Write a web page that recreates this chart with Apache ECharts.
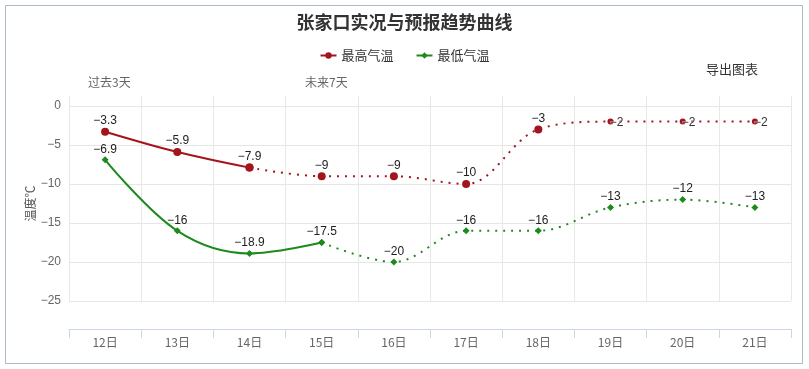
<!DOCTYPE html>
<html>
<head>
<meta charset="utf-8">
<script src="https://cdn.jsdelivr.net/npm/echarts@6/dist/echarts.min.js"></script>
<style>
html,body{margin:0;padding:0;background:#fff;}
#c{width:809px;height:369px;}
</style>
</head>
<body>
<div id="c"></div>
<script>
// ---- data ----
var categories = ['12日','13日','14日','15日','16日','17日','18日','19日','20日','21日'];
var highTemps = [-3.3, -5.9, -7.9, -9, -9, -10, -3, -2, -2, -2];
var lowTemps  = [-6.9, -16, -18.9, -17.5, -20, -16, -16, -13, -12, -13];
var highSolidCount = 3;   // observed part drawn solid (12-14)
var lowSolidCount = 4;    // observed part drawn solid (12-15)
var yTicks = [0, -5, -10, -15, -20, -25];
var titleText = '张家口实况与预报趋势曲线';
var seriesNames = ['最高气温', '最低气温'];

var FONT = '"Noto Sans CJK SC", "DejaVu Sans", sans-serif';
var NUMFONT = '"Liberation Sans", "DejaVu Sans", sans-serif';
var RED = '#a3141c';
var GREEN = '#1e8a1e';

function fmtNum(v) { return String(v).replace('-', '\u2212'); }

function labelFor(v, inline) {
  if (inline) {
    return { show: true, position: 'inside', offset: [6, 1], color: '#333', fontSize: 12, fontFamily: NUMFONT,
             textBorderColor: 'rgba(255,255,255,0.6)', textBorderWidth: 1,
             formatter: function (p) { return fmtNum(p.value); } };
  }
  return { show: true, position: 'top', distance: 1, color: '#222', fontSize: 12, fontFamily: NUMFONT,
           formatter: function (p) { return fmtNum(p.value); } };
}

function buildSeries(values, solidCount, highSeries) {
  var solid = [], dotted = [];
  for (var i = 0; i < values.length; i++) {
    var v = values[i];
    var inline = highSeries && v > -2.5;
    if (i < solidCount) {
      solid.push({ value: v, label: labelFor(v, inline) });
    } else {
      solid.push(null);
    }
    if (i >= solidCount - 1) {
      var lbl = (i === solidCount - 1) ? { show: false } : labelFor(v, inline);
      var item = { value: v, label: lbl };
      if (inline) { item.symbolSize = 6; }
      dotted.push(item);
    } else {
      dotted.push(null);
    }
  }
  return { solid: solid, dotted: dotted };
}

var hi = buildSeries(highTemps, highSolidCount, true);
var lo = buildSeries(lowTemps, lowSolidCount, false);

function lineSeries(name, data, color, symbol, size, dotted) {
  return {
    name: name, type: 'line', data: data, smooth: 0.35,
    xAxisIndex: 0, yAxisIndex: 0,
    symbol: symbol, symbolSize: size, showSymbol: true,
    lineStyle: { color: color, width: 2, type: dotted ? [2, 6] : 'solid', cap: 'butt' },
    itemStyle: { color: color },
    emphasis: { disabled: true },
    animation: false,
    z: dotted ? 2 : 3
  };
}

var chart = echarts.init(document.getElementById('c'), null, { renderer: 'canvas' });
chart.setOption({
  backgroundColor: '#fff',
  animation: false,
  title: {
    text: titleText, left: 'center', top: 8,
    textStyle: { fontSize: 18, fontWeight: 'bold', color: '#333', fontFamily: FONT }
  },
  legend: {
    data: seriesNames, top: 44, left: 'center', itemGap: 22, itemWidth: 16, itemHeight: 8,
    textStyle: { fontSize: 13, color: '#333', fontFamily: FONT },
    selectedMode: false
  },
  graphic: [
    { type: 'rect', shape: { x: 5.5, y: 5.5, width: 797, height: 358 },
      style: { fill: null, stroke: '#a9bcc6', lineWidth: 1 }, silent: true, z: 0 },
    { type: 'text', left: 706, top: 63, style: { text: '导出图表', fill: '#333', font: '13px ' + FONT } },
    { type: 'text', left: 88, top: 76, style: { text: '过去3天', fill: '#666', font: '12px ' + FONT } },
    { type: 'text', left: 305, top: 76, style: { text: '未来7天', fill: '#666', font: '12px ' + FONT } }
  ],
  grid: [
    { left: 69, right: 18, top: 106, height: 195, containLabel: false },
    { left: 69, right: 18, top: 96, height: 10, containLabel: false }
  ],
  xAxis: [
    {
      type: 'category', data: categories, gridIndex: 0, position: 'bottom', offset: 28,
      boundaryGap: true,
      axisLine: { show: true, onZero: false, lineStyle: { color: '#ccd6eb', width: 1 } },
      axisTick: { show: true, length: 9, lineStyle: { color: '#ccd6eb' } },
      axisLabel: { color: '#666', fontSize: 12, fontFamily: FONT, margin: 7 },
      splitLine: { show: true, lineStyle: { color: '#e8e8e8', width: 1 } }
    },
    {
      type: 'category', data: categories, gridIndex: 1, boundaryGap: true,
      axisLine: { show: false }, axisTick: { show: false }, axisLabel: { show: false },
      splitLine: { show: true, lineStyle: { color: '#e8e8e8', width: 1 } }
    }
  ],
  yAxis: [
    {
      type: 'value', gridIndex: 0, min: yTicks[yTicks.length - 1], max: yTicks[0], interval: 5,
      name: '温度℃', nameLocation: 'middle', nameRotate: 90, nameGap: 33, nameMoveOverlap: false,
      nameTextStyle: { color: '#555', fontSize: 12, fontFamily: FONT },
      axisLine: { show: false }, axisTick: { show: false },
      axisLabel: { color: '#666', fontSize: 12, fontFamily: NUMFONT, margin: 8,
                   formatter: function (v) { return fmtNum(v); } },
      splitLine: { show: true, lineStyle: { color: '#e6e6e6', width: 1 } }
    },
    {
      type: 'value', gridIndex: 1, min: 0, max: 1,
      axisLine: { show: false }, axisTick: { show: false }, axisLabel: { show: false },
      splitLine: { show: false }
    }
  ],
  series: [
    lineSeries(seriesNames[0], hi.solid, RED, 'circle', 8, false),
    lineSeries(seriesNames[0], hi.dotted, RED, 'circle', 8, true),
    lineSeries(seriesNames[1], lo.solid, GREEN, 'diamond', 7, false),
    lineSeries(seriesNames[1], lo.dotted, GREEN, 'diamond', 7, true)
  ]
});
</script>
</body>
</html>
